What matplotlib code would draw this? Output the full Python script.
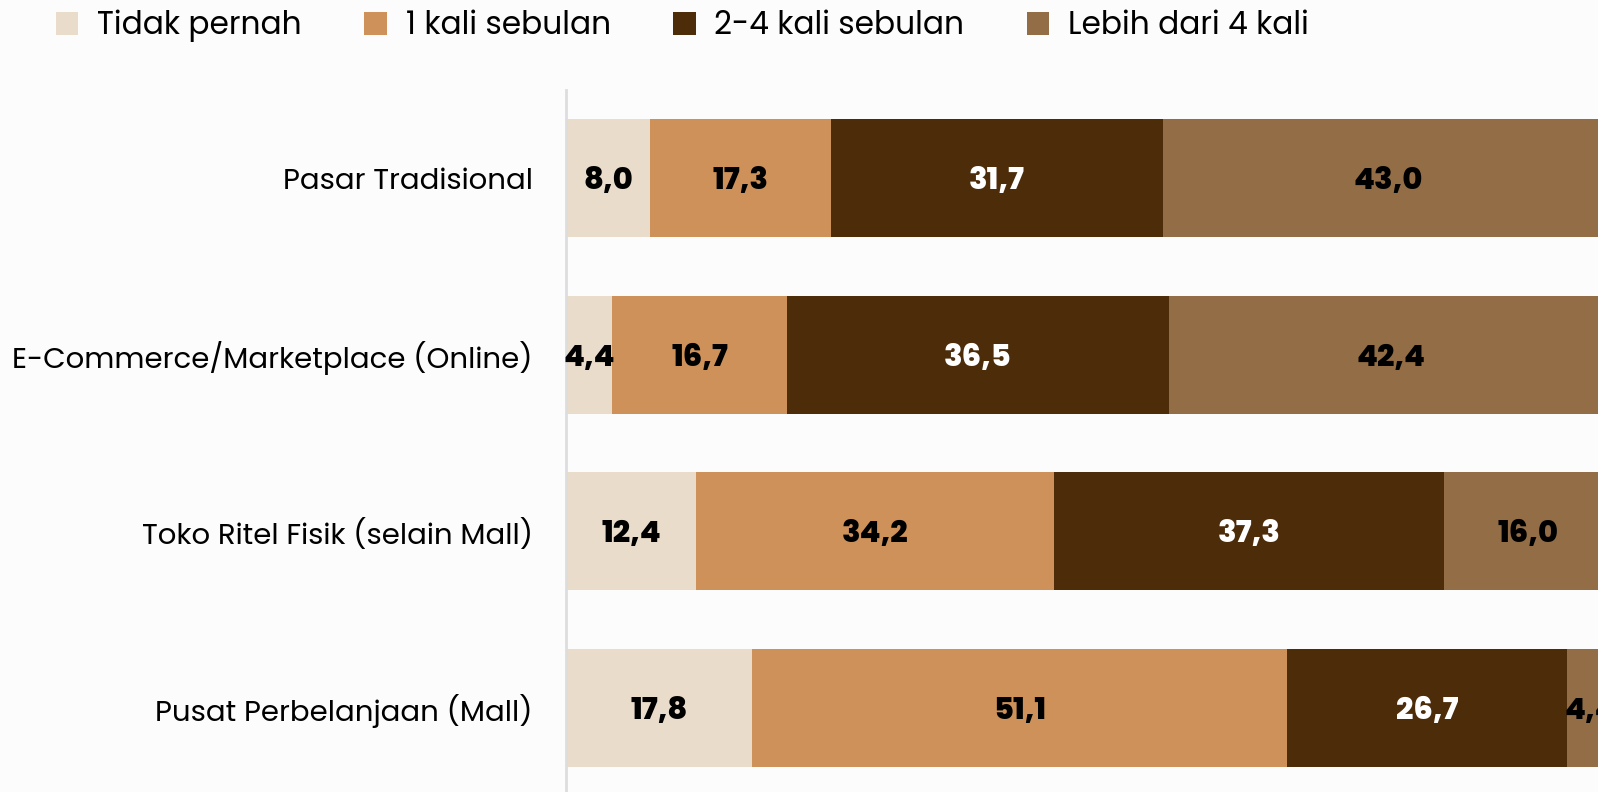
import matplotlib
matplotlib.use("Agg")
import matplotlib.pyplot as plt
from matplotlib.patches import Patch

categories = ["Pasar Tradisional", "E-Commerce/Marketplace (Online)",
              "Toko Ritel Fisik (selain Mall)", "Pusat Perbelanjaan (Mall)"]
series_names = ["Tidak pernah", "1 kali sebulan", "2-4 kali sebulan", "Lebih dari 4 kali"]
tidak_pernah = [8.0, 4.4, 12.4, 17.8]
satu_kali = [17.3, 16.7, 34.2, 51.1]
dua_empat = [31.7, 36.5, 37.3, 26.7]
lebih_empat = [43.0, 42.4, 16.0, 4.4]

colors = ["#e9dccb", "#cd9159", "#4d2c0a", "#936d46"]
label_colors = ["black", "black", "white", "black"]

plt.rcParams['font.family'] = ['Poppins', 'Inter', 'DejaVu Sans']
bg = "#fcfcfc"

fig = plt.figure(figsize=(15.98, 7.92), dpi=100, facecolor=bg)
ax = fig.add_axes([566 / 1598, -0.005, 1047 / 1598, (792 - 90) / 792 + 0.005])
ax.set_facecolor(bg)

series = [tidak_pernah, satu_kali, dua_empat, lebih_empat]
ypos = list(range(len(categories)))
left = [0.0] * len(categories)
for vals, col, lc in zip(series, colors, label_colors):
    ax.barh(ypos, vals, left=left, height=0.67, color=col, edgecolor='none')
    for y, v, l in zip(ypos, vals, left):
        ax.text(l + v / 2, y, f"{v:.1f}".replace('.', ','), ha='center', va='center_baseline',
                fontsize=22, fontweight='heavy', color=lc)
    left = [a + b for a, b in zip(left, vals)]

ax.set_xlim(0, 100)
ax.set_ylim(3.5, -0.5)
ax.set_yticks(ypos)
ax.set_yticklabels(categories, fontsize=21)
ax.tick_params(axis='y', length=0, pad=24)
ax.set_xticks([])
for s in ['top', 'right', 'bottom']:
    ax.spines[s].set_visible(False)
ax.spines['left'].set_color('#dddddd')
ax.spines['left'].set_linewidth(2)

handles = [Patch(facecolor=c, edgecolor='none') for c in colors]
fig.legend(handles, series_names, loc='center left', bbox_to_anchor=(0.035, 0.967),
           ncol=4, frameon=False, fontsize=22.5, handlelength=0.72, handleheight=0.72,
           handletextpad=0.6, columnspacing=2.0, borderpad=0, borderaxespad=0)

fig.savefig("out.png", dpi=100, facecolor=bg)
